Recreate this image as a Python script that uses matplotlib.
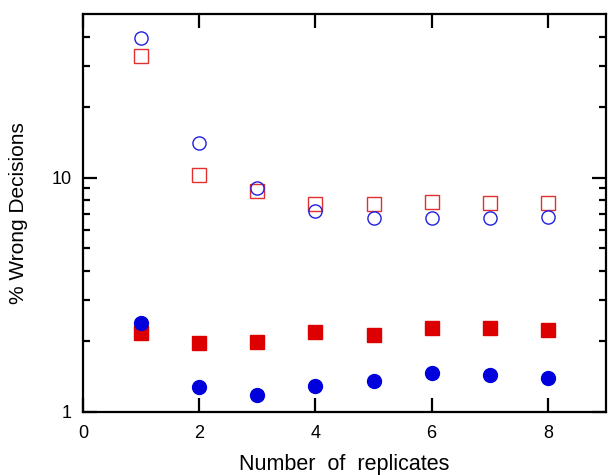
import matplotlib
matplotlib.use("Agg")
import matplotlib.pyplot as plt
from matplotlib.ticker import FixedLocator, NullFormatter, NullLocator

plt.rcParams["font.family"] = ["Liberation Sans", "DejaVu Sans"]

replicates = [1, 2, 3, 4, 5, 6, 7, 8]
open_circles = [39.6, 14.1, 9.0, 7.2, 6.75, 6.7, 6.7, 6.8]
open_squares = [33.2, 10.3, 8.8, 7.7, 7.7, 7.9, 7.8, 7.8]
filled_squares = [2.18, 1.97, 1.99, 2.2, 2.13, 2.29, 2.29, 2.24]
filled_circles = [2.40, 1.28, 1.18, 1.29, 1.36, 1.47, 1.44, 1.40]

BLUE = "#0000dd"
RED = "#dd0000"

fig = plt.figure(figsize=(6.08, 4.75), dpi=100)
fig.subplots_adjust(left=83 / 608, right=606 / 608, top=1 - 14 / 475, bottom=1 - 412 / 475)
ax = fig.add_subplot(111)

ax.plot(replicates, filled_squares, "s", color=RED, markersize=9.5, linestyle="none")
ax.plot(replicates, filled_circles, "o", color=BLUE, markersize=10, linestyle="none")
ax.plot(replicates, open_squares, "s", mfc="none", mec="#e03030", mew=1.0,
        markersize=9.5, linestyle="none")
ax.plot(replicates, open_circles, "o", mfc="none", mec="#2020e0", mew=1.0,
        markersize=9.5, linestyle="none")

ax.set_yscale("log")
ax.set_ylim(1, 50)
ax.set_xlim(0, 9)

ax.xaxis.set_major_locator(FixedLocator([0, 2, 4, 6, 8]))
ax.xaxis.set_minor_locator(NullLocator())
ax.yaxis.set_major_locator(FixedLocator([1, 10]))
ax.yaxis.set_minor_locator(FixedLocator([2, 3, 4, 5, 6, 7, 8, 9, 20, 30, 40]))
ax.yaxis.set_major_formatter(plt.FixedFormatter(["1", "10"]))
ax.yaxis.set_minor_formatter(NullFormatter())

ax.tick_params(which="both", direction="in", top=True, right=True,
               width=1.6, labelsize=13, colors="black")
ax.tick_params(which="major", length=10, pad=8)
ax.tick_params(axis="x", which="major", pad=9)
ax.tick_params(which="minor", length=5)

for spine in ax.spines.values():
    spine.set_linewidth(1.6)

ax.set_xlabel("Number  of  replicates", fontsize=15.5, labelpad=9)
ax.set_ylabel("% Wrong Decisions", fontsize=15, labelpad=17)

fig.savefig("out.png", dpi=100)
